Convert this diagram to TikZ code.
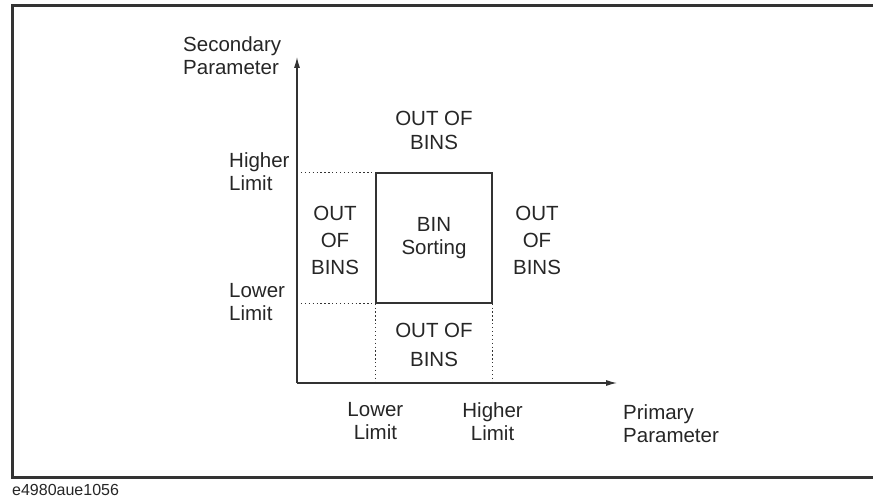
\documentclass[tikz,border=0pt]{standalone}
\usepackage{fontspec}
\setmainfont{Liberation Sans}
\usetikzlibrary{arrows.meta,positioning}
\begin{document}
\begin{tikzpicture}[
    x=1pt,y=-1pt,
    txt/.style={text=black!85,font=\fontsize{20.5}{23}\selectfont,inner sep=0pt,align=center},
    lim/.style={txt,align=left},
    ax/.style={draw=black!80,line width=1.1pt,-{Latex[length=11pt,width=6pt]}},
    lvl/.style={draw=black!80,line width=1.2pt,dash pattern=on 1.3pt off 2.6pt},
    binbox/.style={txt,draw=black!80,line width=1.2pt,minimum width=116pt,minimum height=130pt},
]

    \tikzset{
        node distance=19pt,
    }

    \useasboundingbox (0,0) rectangle (873,500);
    \draw[line width=3pt,black!80] (12,6) rectangle (890,477);

    \coordinate (O) at (297,383);
    \coordinate (xend) at (617,383);
    \coordinate (yend) at (297,57);

    \node[binbox] (bin) at (434,238) {BIN\\Sorting};
    \coordinate (xlo) at (bin.south west |- O);
    \coordinate (xhi) at (bin.south east |- O);
    \coordinate (yhi) at (O |- bin.north west);
    \coordinate (ylo) at (O |- bin.south west);

    \draw[ax] (O) -- (xend);
    \draw[ax] (O) -- (yend);

    \draw[lvl]
        (yhi) -- (bin.north west)
        (ylo) -- (bin.south west)
        (bin.south west) -- (xlo)
        (bin.south east) -- (xhi)
    ;

    \node[txt] (outtop) at (434,130) {OUT OF\\[1pt]BINS};
    \node[txt] (outleft) at (335,240) {OUT\\[4pt]OF\\[4pt]BINS};
    \node[txt] (outright) at (537,240) {OUT\\[4pt]OF\\[4pt]BINS};
    \node[txt] (outbot) at (434,345) {OUT OF\\[6pt]BINS};

    \node[lim,anchor=west] (sec) at (183,56) {Secondary\\Parameter};
    \node[lim,anchor=west] (yhilbl) at (229,172) {Higher\\Limit};
    \node[lim,anchor=west] (ylolbl) at (229,302) {Lower\\Limit};
    \node[txt,below=of xlo] (xlolbl) {Lower\\Limit};
    \node[txt,below=of xhi] (xhilbl) {Higher\\Limit};
    \node[lim,anchor=west] (prim) at (623,424) {Primary\\Parameter};

    \node[txt,anchor=west,font=\fontsize{16}{19}\selectfont] (figid) at (12,490) {e4980aue1056};

\end{tikzpicture}
\end{document}
